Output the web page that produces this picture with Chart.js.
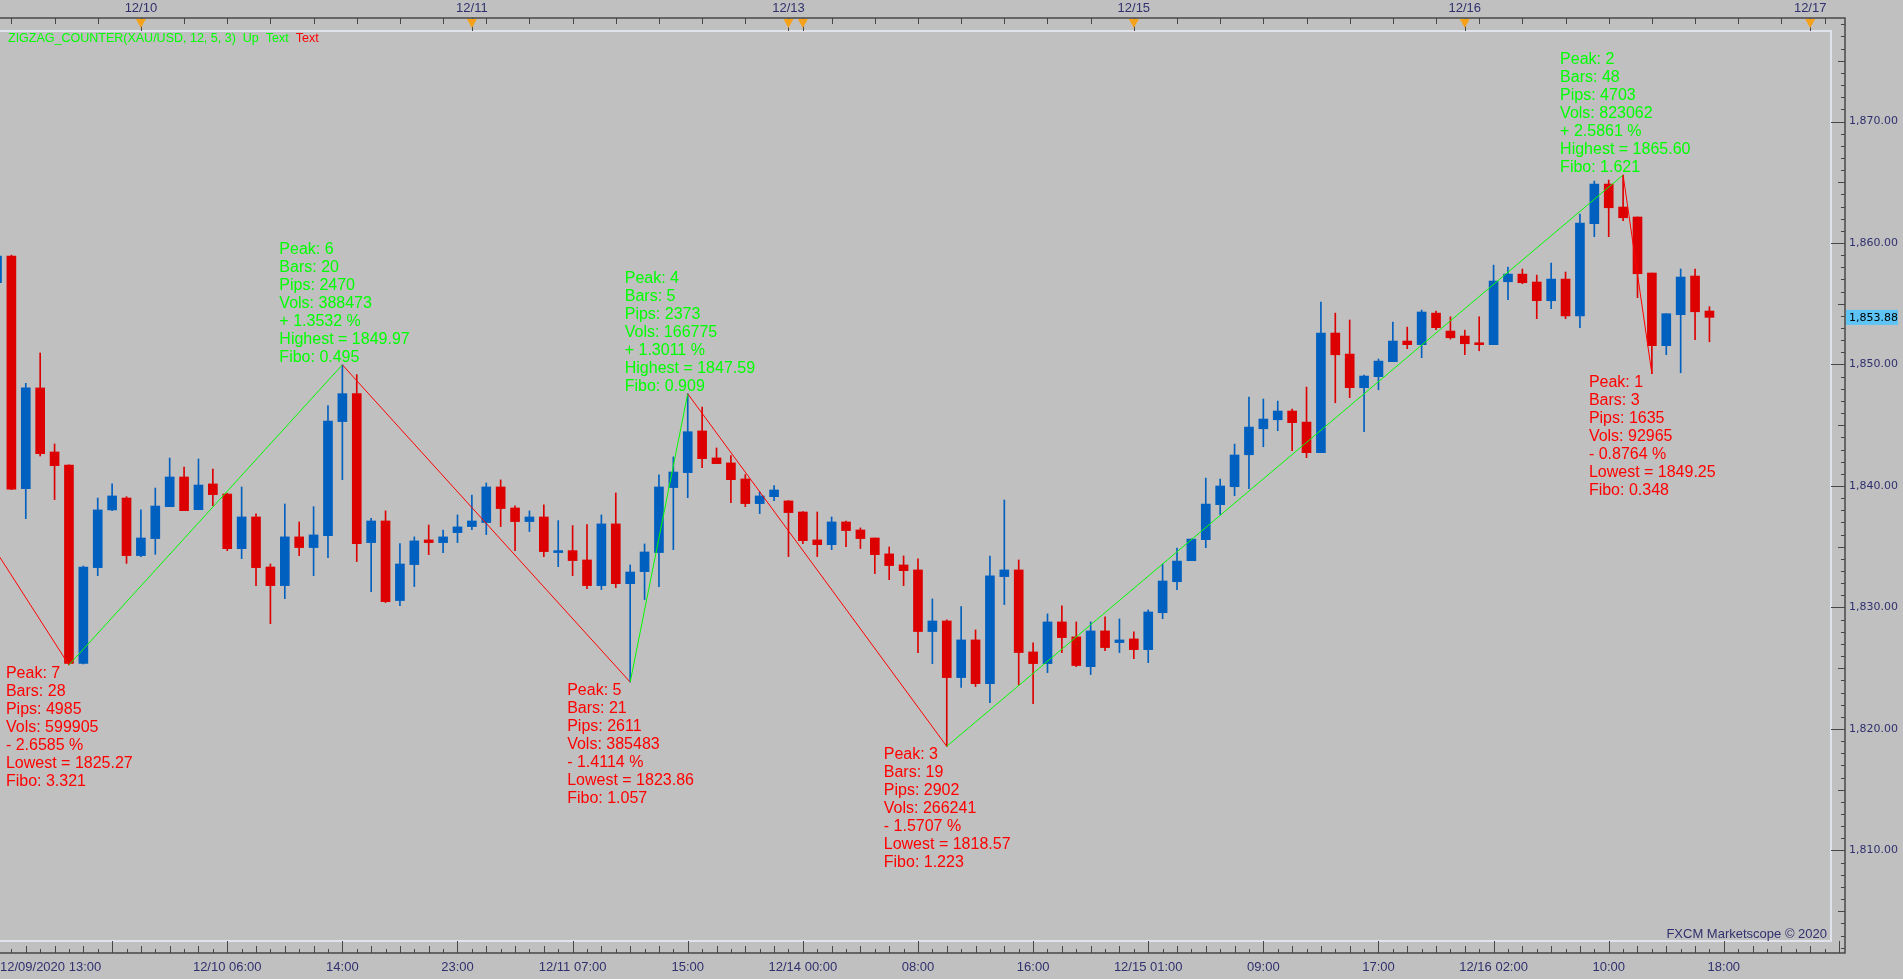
<!DOCTYPE html>
<html>
<head>
<meta charset="utf-8">
<title>XAU/USD H1 - ZIGZAG_COUNTER</title>
<script src="https://cdn.jsdelivr.net/npm/chart.js@4.4.1/dist/chart.umd.min.js"></script>
<style>
  html, body { margin: 0; padding: 0; background: #c0c0c0; }
  #wrap { width: 1903px; height: 979px; }
</style>
</head>
<body>
<div id="wrap"><canvas id="chart"></canvas></div>
<script>
// ── Hourly XAU/USD bars, 12/09 13:00 .. 12/16 17:00 (bar index = position) ──
const opens = [
  1856.74, 1858.93, 1839.78, 1848.07, 1842.80, 1841.73, 1825.40, 1833.28, 1838.03, 1839.01,
  1834.27, 1835.67, 1838.30, 1840.74, 1838.05, 1840.17, 1839.34, 1834.84, 1837.45, 1833.33,
  1831.80, 1835.81, 1834.93, 1835.92, 1845.30, 1847.60, 1835.34, 1837.12, 1830.57, 1833.53,
  1835.56, 1835.34, 1836.16, 1836.66, 1836.99, 1839.92, 1838.19, 1837.07, 1837.45, 1834.52,
  1834.68, 1833.91, 1831.80, 1836.88, 1831.96, 1832.95, 1834.52, 1839.87, 1841.10, 1844.53,
  1842.31, 1841.90, 1840.58, 1838.55, 1839.12, 1838.77, 1837.86, 1835.56, 1835.17, 1837.04,
  1836.38, 1835.72, 1834.41, 1833.50, 1833.09, 1828.02, 1828.89, 1824.23, 1827.33, 1823.73,
  1832.54, 1833.09, 1826.34, 1825.38, 1828.81, 1827.58, 1825.13, 1828.07, 1827.11, 1827.41,
  1826.53, 1829.57, 1832.12, 1833.85, 1835.58, 1838.46, 1839.94, 1842.57, 1844.71, 1845.45,
  1846.17, 1845.26, 1842.74, 1852.59, 1850.86, 1848.09, 1849.00, 1850.23, 1851.93, 1851.63,
  1854.23, 1852.75, 1852.34, 1851.79, 1851.63, 1856.81, 1857.44, 1856.79, 1855.25, 1857.03,
  1854.00, 1861.59, 1864.85, 1862.96, 1862.14, 1857.53, 1851.55, 1854.10, 1857.28, 1854.40
];
const highs = [
  1859.20, 1859.00, 1848.45, 1850.95, 1843.46, 1841.75, 1833.41, 1839.01, 1840.17, 1839.12,
  1838.03, 1839.83, 1842.30, 1841.56, 1842.22, 1841.40, 1839.40, 1839.92, 1837.70, 1833.58,
  1838.52, 1837.04, 1838.30, 1846.62, 1849.97, 1849.17, 1837.34, 1837.95, 1835.26, 1835.81,
  1836.79, 1836.38, 1837.62, 1839.26, 1840.25, 1840.50, 1838.36, 1837.95, 1838.44, 1837.15,
  1836.74, 1836.82, 1837.62, 1839.43, 1833.50, 1835.23, 1840.91, 1842.39, 1847.59, 1846.50,
  1843.13, 1842.50, 1840.94, 1839.51, 1840.03, 1838.80, 1837.90, 1837.86, 1837.45, 1837.12,
  1836.55, 1835.72, 1834.98, 1834.24, 1834.00, 1830.70, 1828.98, 1830.07, 1828.15, 1834.24,
  1838.85, 1833.91, 1827.08, 1829.47, 1830.13, 1828.81, 1828.81, 1829.22, 1829.06, 1827.99,
  1829.80, 1833.58, 1834.89, 1835.63, 1840.65, 1840.57, 1843.45, 1847.32, 1847.16, 1846.99,
  1846.33, 1848.14, 1855.14, 1854.23, 1853.66, 1849.13, 1850.45, 1853.49, 1853.08, 1854.48,
  1854.40, 1853.93, 1852.83, 1853.93, 1858.18, 1858.02, 1857.86, 1857.36, 1858.35, 1857.61,
  1862.38, 1865.10, 1865.18, 1865.60, 1862.14, 1857.53, 1854.18, 1857.86, 1857.86, 1854.76
];
const lows = [
  1856.20, 1839.70, 1837.31, 1842.47, 1838.88, 1825.27, 1825.35, 1832.62, 1837.97, 1833.63,
  1834.18, 1834.38, 1838.30, 1837.97, 1838.05, 1838.38, 1834.68, 1834.02, 1831.80, 1828.67,
  1830.73, 1834.27, 1832.62, 1834.10, 1840.52, 1833.78, 1831.30, 1830.40, 1830.15, 1831.72,
  1834.35, 1834.52, 1835.34, 1836.41, 1836.00, 1836.66, 1834.68, 1836.25, 1834.19, 1833.36,
  1832.62, 1831.55, 1831.47, 1831.63, 1823.86, 1830.65, 1831.72, 1834.76, 1839.04, 1841.51,
  1841.84, 1838.63, 1838.30, 1837.73, 1838.80, 1834.19, 1835.26, 1834.19, 1834.76, 1835.01,
  1834.85, 1832.79, 1832.29, 1831.80, 1826.29, 1825.38, 1818.57, 1823.41, 1823.49, 1822.17,
  1830.24, 1823.63, 1822.09, 1824.64, 1826.29, 1825.13, 1824.48, 1826.45, 1826.29, 1825.79,
  1825.46, 1829.08, 1831.46, 1833.85, 1834.92, 1837.64, 1839.20, 1839.78, 1843.23, 1844.55,
  1842.90, 1842.33, 1842.74, 1846.85, 1847.27, 1844.47, 1847.92, 1850.23, 1851.30, 1850.56,
  1852.86, 1852.09, 1850.81, 1851.13, 1851.63, 1855.33, 1856.65, 1853.77, 1854.59, 1853.77,
  1853.03, 1860.52, 1860.52, 1861.83, 1855.50, 1849.25, 1850.81, 1849.32, 1852.04, 1851.87
];
const closes = [
  1858.93, 1839.73, 1848.07, 1842.66, 1841.67, 1825.40, 1833.33, 1838.03, 1839.18, 1834.27,
  1835.72, 1838.35, 1840.74, 1837.97, 1840.08, 1839.29, 1834.84, 1837.45, 1833.28, 1831.80,
  1835.81, 1834.93, 1835.97, 1845.35, 1847.60, 1835.26, 1837.12, 1830.48, 1833.58, 1835.48,
  1835.34, 1835.81, 1836.63, 1837.12, 1839.92, 1838.14, 1837.07, 1837.45, 1834.60, 1834.68,
  1833.86, 1831.80, 1836.88, 1831.96, 1832.92, 1834.57, 1839.92, 1841.15, 1844.47, 1842.25,
  1841.84, 1840.52, 1838.55, 1839.18, 1839.67, 1837.81, 1835.50, 1835.17, 1837.04, 1836.33,
  1835.67, 1834.35, 1833.45, 1833.03, 1828.02, 1828.89, 1824.23, 1827.33, 1823.73, 1832.60,
  1833.09, 1826.29, 1825.38, 1828.81, 1827.52, 1825.22, 1828.07, 1826.70, 1827.33, 1826.53,
  1829.63, 1832.18, 1833.82, 1835.63, 1838.51, 1840.00, 1842.55, 1844.85, 1845.51, 1846.17,
  1845.21, 1842.74, 1852.59, 1850.80, 1848.09, 1849.05, 1850.28, 1851.93, 1851.63, 1854.32,
  1853.03, 1852.20, 1851.71, 1851.63, 1856.87, 1857.44, 1856.73, 1855.25, 1857.03, 1854.00,
  1861.64, 1864.85, 1862.90, 1862.08, 1857.47, 1851.55, 1854.18, 1857.20, 1854.34, 1853.88
];

// time axis (bar indices + text)
const xTickBars   = [16, 24, 32, 40, 48, 56, 64, 72, 80, 88, 96, 104, 112, 120];
const xTickLabels = ['12/10 06:00', '14:00', '23:00', '12/11 07:00', '15:00', '12/14 00:00', '08:00',
                     '16:00', '12/15 01:00', '09:00', '17:00', '12/16 02:00', '10:00', '18:00'];
const firstBarLabel = '12/09/2020 13:00';
const dayBars   = [10, 33, 55, 79, 102, 126];
const dayLabels = ['12/10', '12/11', '12/13', '12/15', '12/16', '12/17'];
const sessionBars = [10, 33, 55, 56, 79, 102, 126];
const priceTicks = [1810, 1820, 1830, 1840, 1850, 1860, 1870];

// zigzag pivots (first one lies left of the visible window)
const zigBars   = [-22, 5, 24, 44, 48, 66, 113, 115];
const zigPrices = [1875.12, 1825.27, 1849.97, 1823.86, 1847.59, 1818.57, 1865.60, 1849.25];

// ZIGZAG_COUNTER peak statistics
const peakNo    = [7, 6, 5, 4, 3, 2, 1];
const peakBar   = [5, 24, 44, 48, 66, 113, 115];
const peakPrice = [1825.27, 1849.97, 1823.86, 1847.59, 1818.57, 1865.60, 1849.25];
const peakBars  = [28, 20, 21, 5, 19, 48, 3];
const peakPips  = [4985, 2470, 2611, 2373, 2902, 4703, 1635];
const peakVols  = [599905, 388473, 385483, 166775, 266241, 823062, 92965];
const peakPct   = ['- 2.6585', '+ 1.3532', '- 1.4114', '+ 1.3011', '- 1.5707', '+ 2.5861', '- 0.8764'];
const peakFibo  = ['3.321', '0.495', '1.057', '0.909', '1.223', '1.621', '0.348'];

const lastPrice = 1853.88;

// ── Look ──────────────────────────────────────────────────────
const BG = '#c0c0c0';
const UP = '#0060c0';
const DOWN = '#dd0000';
const ZZ_UP = '#00ff00';
const ZZ_DOWN = '#ff0000';
const AXIS_TEXT = '#30306e';
const AXIS_LINE = '#474747';
const FRAME = '#e0e2ec';

const X_MIN = 0.2085, X_MAX = 128.42;
const Y_MIN = 1801.56, Y_MAX = 1878.52;

const isUp = i => closes[i] >= opens[i];
const barColor = c => isUp(c.dataIndex) ? UP : DOWN;
const fmtPrice = v => v.toLocaleString('en-US', { minimumFractionDigits: 2, maximumFractionDigits: 2 });

// ── Decorations: background, frame, axis marks, texts ────────
const chromePlugin = {
  id: 'chrome',
  beforeDraw(chart) {
    const { ctx, width, height } = chart;
    ctx.save();
    ctx.fillStyle = BG;
    ctx.fillRect(0, 0, width, height);
    ctx.restore();
  },
  beforeDatasetsDraw(chart) {
    const { ctx, chartArea: a } = chart;
    ctx.save();
    ctx.strokeStyle = FRAME;
    ctx.lineWidth = 2;
    ctx.beginPath();
    ctx.moveTo(a.left, a.top + 13);
    ctx.lineTo(a.right - 14, a.top + 13);
    ctx.lineTo(a.right - 14, a.bottom - 12);
    ctx.lineTo(a.left, a.bottom - 12);
    ctx.stroke();
    ctx.restore();
  },
  afterDatasetsDraw(chart) {
    const { ctx } = chart;
    const xs = chart.scales.x, ys = chart.scales.y;
    ctx.save();
    ctx.font = '16px "Liberation Sans", Arial, sans-serif';
    ctx.textAlign = 'left';
    ctx.textBaseline = 'middle';
    peakNo.forEach((n, k) => {
      const high = peakPct[k].startsWith('+');
      const lines = [
        `Peak: ${n}`,
        `Bars: ${peakBars[k]}`,
        `Pips: ${peakPips[k]}`,
        `Vols: ${peakVols[k]}`,
        `${peakPct[k]} %`,
        `${high ? 'Highest' : 'Lowest'} = ${peakPrice[k].toFixed(2)}`,
        `Fibo: ${peakFibo[k]}`,
      ];
      const px = xs.getPixelForValue(peakBar[k]) - 63;
      const py = ys.getPixelForValue(peakPrice[k]);
      ctx.fillStyle = high ? ZZ_UP : ZZ_DOWN;
      lines.forEach((t, j) => {
        const y = high ? py - 7 - (lines.length - 1 - j) * 18 : py + 8.5 + j * 18;
        ctx.fillText(t, px, y);
      });
    });
    ctx.restore();
  },
  afterDraw(chart) {
    const { ctx, chartArea: a } = chart;
    const xs = chart.scales.x, ys = chart.scales.y;
    ctx.save();

    // axis lines
    ctx.strokeStyle = AXIS_LINE;
    ctx.lineWidth = 1.5;
    ctx.beginPath();
    ctx.moveTo(a.left, a.top); ctx.lineTo(a.right, a.top); ctx.lineTo(a.right, a.bottom); ctx.lineTo(a.left, a.bottom);
    ctx.stroke();

    // tick marks
    ctx.lineWidth = 1;
    ctx.beginPath();
    for (let p = Math.ceil(Y_MIN); p <= Math.floor(Y_MAX); p++) {
      const len = p % 10 === 0 ? 14 : (p % 5 === 0 ? 7 : 4);
      const y = Math.round(ys.getPixelForValue(p)) + 0.5;
      ctx.moveTo(a.right - len, y); ctx.lineTo(a.right, y);
    }
    for (let i = Math.ceil(X_MIN); i <= Math.floor(X_MAX); i++) {
      const len = i % 8 === 0 ? 12 : (i % 2 === 0 ? 7 : 4);
      const x = Math.round(xs.getPixelForValue(i)) + 0.5;
      ctx.moveTo(x, a.bottom - len); ctx.lineTo(x, a.bottom);
    }
    for (let i = 1; i <= X_MAX; i += 3) {
      const x = Math.round(xs.getPixelForValue(i)) + 0.5;
      ctx.moveTo(x, a.top); ctx.lineTo(x, a.top + 6);
    }
    sessionBars.forEach(i => {
      const x = Math.round(xs.getPixelForValue(i)) + 0.5;
      ctx.moveTo(x, a.top); ctx.lineTo(x, a.top + 13);
    });
    ctx.stroke();

    // session triangles
    ctx.fillStyle = '#f5a21a';
    sessionBars.forEach(i => {
      const x = xs.getPixelForValue(i);
      ctx.beginPath();
      ctx.moveTo(x - 5, a.top + 1); ctx.lineTo(x + 5, a.top + 1); ctx.lineTo(x, a.top + 10);
      ctx.closePath();
      ctx.fill();
    });

    // first bar time at the left edge
    ctx.fillStyle = AXIS_TEXT;
    ctx.font = '13px "Liberation Sans", Arial, sans-serif';
    ctx.textAlign = 'left';
    ctx.textBaseline = 'middle';
    ctx.fillText(firstBarLabel, a.left, a.bottom + 14);

    // watermark
    ctx.textAlign = 'right';
    ctx.fillText('FXCM Marketscope \u00A9 2020', a.right - 18, a.bottom - 19);

    // indicator caption
    ctx.font = '12.5px "Liberation Sans", Arial, sans-serif';
    ctx.textAlign = 'left';
    let cx = a.left + 8;
    [['ZIGZAG_COUNTER(XAU/USD, 12, 5, 3)', ZZ_UP], ['Up', ZZ_UP], ['Text', ZZ_UP], ['Text', ZZ_DOWN]].forEach(([t, c]) => {
      ctx.fillStyle = c;
      ctx.fillText(t, cx, a.top + 21);
      cx += ctx.measureText(t).width + 7;
    });

    // last price box
    const ly = ys.getPixelForValue(lastPrice);
    ctx.fillStyle = '#5ec4f6';
    ctx.fillRect(a.right + 1, ly - 7.5, 52, 15);
    ctx.fillStyle = '#000';
    ctx.font = '11px "DejaVu Sans", Verdana, sans-serif';
    ctx.fillText(fmtPrice(lastPrice), a.right + 4, ly + 0.5);

    ctx.restore();
  },
};

// ── Chart ─────────────────────────────────────────────────────
const idx = opens.map((_, i) => i);

new Chart(document.getElementById('chart'), {
  type: 'bar',
  data: {
    datasets: [
      {
        type: 'line',
        label: 'ZigZag',
        data: zigBars.map((b, k) => ({ x: b, y: zigPrices[k] })),
        borderWidth: 1,
        pointRadius: 0,
        tension: 0,
        segment: { borderColor: s => s.p1.parsed.y > s.p0.parsed.y ? ZZ_UP : ZZ_DOWN },
        order: 0,
      },
      {
        label: 'Body',
        data: idx.map(i => ({ x: i, y: [opens[i], closes[i]] })),
        backgroundColor: barColor,
        borderWidth: 0,
        barThickness: 9,
        minBarLength: 1,
        grouped: false,
        order: 1,
      },
      {
        label: 'Wick',
        data: idx.map(i => ({ x: i, y: [lows[i], highs[i]] })),
        backgroundColor: barColor,
        borderWidth: 0,
        barThickness: 1,
        grouped: false,
        order: 2,
      },
    ],
  },
  options: {
    responsive: true,
    maintainAspectRatio: false,
    animation: false,
    layout: { padding: 0 },
    plugins: { legend: { display: false }, tooltip: { enabled: false } },
    scales: {
      x: {
        type: 'linear',
        position: 'bottom',
        min: X_MIN,
        max: X_MAX,
        offset: false,
        grid: { display: false, drawTicks: false },
        border: { display: false },
        afterBuildTicks: s => { s.ticks = xTickBars.map(v => ({ value: v })); },
        afterFit: s => { s.height = 26; },
        ticks: {
          autoSkip: false, maxRotation: 0, minRotation: 0, padding: 7,
          color: AXIS_TEXT,
          font: { family: '"Liberation Sans", Arial, sans-serif', size: 13 },
          callback: (v, i) => xTickLabels[i],
        },
      },
      x2: {
        type: 'linear',
        position: 'top',
        min: X_MIN,
        max: X_MAX,
        offset: false,
        grid: { display: false, drawTicks: false },
        border: { display: false },
        afterBuildTicks: s => { s.ticks = dayBars.map(v => ({ value: v })); },
        afterFit: s => { s.height = 18; },
        ticks: {
          autoSkip: false, maxRotation: 0, minRotation: 0, padding: 2,
          color: AXIS_TEXT,
          font: { family: '"Liberation Sans", Arial, sans-serif', size: 13 },
          callback: (v, i) => dayLabels[i],
        },
      },
      y: {
        type: 'linear',
        position: 'right',
        min: Y_MIN,
        max: Y_MAX,
        grid: { display: false, drawTicks: false },
        border: { display: false },
        afterBuildTicks: s => { s.ticks = priceTicks.map(v => ({ value: v })); },
        afterFit: s => { s.width = 58; },
        ticks: {
          padding: 4,
          color: AXIS_TEXT,
          font: { family: '"DejaVu Sans", Verdana, sans-serif', size: 11 },
          callback: v => fmtPrice(v),
        },
      },
    },
  },
  plugins: [chromePlugin],
});
</script>
</body>
</html>
